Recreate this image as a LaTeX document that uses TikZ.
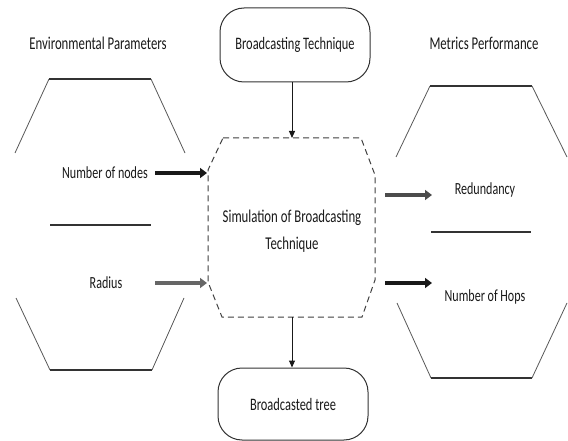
\documentclass[tikz,border=0pt]{standalone}
\usepackage{fontspec}
\setmainfont{Carlito}[FakeStretch=0.71]
\usetikzlibrary{arrows.meta}
\begin{document}
\begin{tikzpicture}[x=1pt,y=-1pt,
  lbl/.style={font=\fontsize{17}{19}\selectfont, text=black!90, inner sep=0pt},
  ttl/.style={font=\fontsize{18}{20}\selectfont, text=black!90, inner sep=0pt},
  rbox/.style={draw=black!80, line width=1pt, rounded corners=24pt, minimum width=150pt, minimum height=74pt, font=\fontsize{17.5}{19}\selectfont, text=black!90},
  hexside/.style={draw=black!65, line width=0.8pt},
  hexbar/.style={draw=black!80, line width=1.4pt},
  arr/.style={-{Triangle[length=7pt,width=10pt]}, line width=3.2pt},
  varr/.style={-{Triangle[length=7pt,width=6pt]}, line width=1pt, draw=black!90},
  dashline/.style={draw=black!75, line width=1pt, dash pattern=on 6pt off 4pt}
]
\useasboundingbox[fill=white] (0,0) rectangle (568,441);

% titles
\node[ttl] (envt) at (98,43) {Environmental Parameters};
\node[ttl] (mett) at (484,43) {Metrics Performance};

% left hexagon
\draw[hexside] (15,153) -- (49,79);
\draw[hexbar] (49,79) -- (151,79);
\draw[hexside] (151,79) -- (185,153);
\draw[hexbar] (50,225) -- (151,225);
\draw[hexside] (16,298) -- (50,370);
\draw[hexbar] (50,370) -- (152,370);
\draw[hexside] (152,370) -- (184,298);

% right hexagon
\draw[hexside] (396,157) -- (430,86);
\draw[hexbar] (430,86) -- (532,86);
\draw[hexside] (532,86) -- (567,157);
\draw[hexbar] (431,232) -- (531,232);
\draw[hexside] (397,303) -- (431,378);
\draw[hexbar] (431,378) -- (532,378);
\draw[hexside] (532,378) -- (567,303);

% center dashed octagon
\coordinate (o1) at (223,138);
\coordinate (o2) at (361,138);
\coordinate (o3) at (375,175);
\coordinate (o4) at (375,280);
\coordinate (o5) at (362,317);
\coordinate (o6) at (222,317);
\coordinate (o7) at (208,282);
\coordinate (o8) at (208,170);
\draw[dashline] (o1) -- (o2) -- (o3) -- (o4) -- (o5) -- (o6) -- (o7) -- (o8) -- cycle;
\node[ttl, align=center, font=\fontsize{18}{27}\selectfont] (sim) at (292,231) {Simulation of Broadcasting\\Technique};

% top and bottom boxes
\node[rbox] (bt) at (295,45) {Broadcasting Technique};
\node[rbox, minimum height=72pt] (tree) at (293,404) {Broadcasted tree};
\coordinate (octop) at (292,138);
\coordinate (ocbot) at (292,317);
\draw[varr] (bt.south -| octop) -- (octop);
\draw[varr] (ocbot) -- (tree.north -| ocbot);

% left labels and arrows
\node[lbl, anchor=east] (non) at (148,173) {Number of nodes};
\node[lbl] (rad) at (106,283) {Radius};
\coordinate (inA) at (207,173);
\coordinate (inB) at (207,283);
\draw[arr, black!90] (155,173) -- (inA);
\draw[arr, black!60] (155,283) -- (inB);

% right labels and arrows
\node[lbl] (red) at (485,190) {Redundancy};
\node[lbl] (hops) at (485,297) {Number of Hops};
\coordinate (outA) at (385,195);
\coordinate (outB) at (385,283);
\draw[arr, black!70] (outA) -- (432,195);
\draw[arr, black!90] (outB) -- (432,283);
\end{tikzpicture}
\end{document}
